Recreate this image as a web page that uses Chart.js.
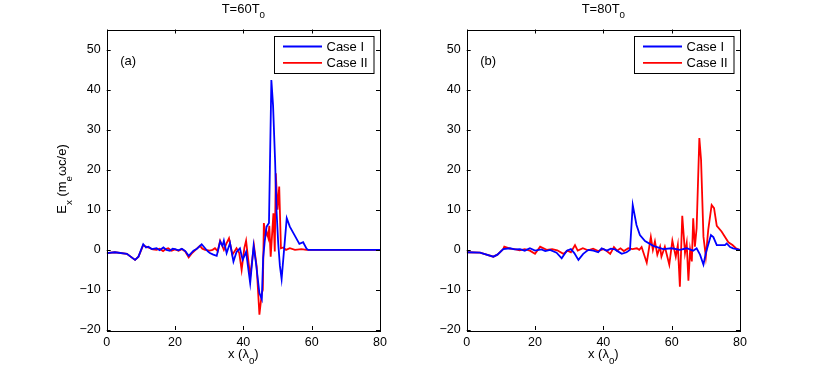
<!DOCTYPE html>
<html>
<head>
<meta charset="utf-8">
<script src="https://cdn.jsdelivr.net/npm/chart.js@4"></script>
<style>
  html, body { margin: 0; padding: 0; background: #fff; }
  .panel { position: absolute; top: 0; height: 371px; }
  #wrapA { left: 0; width: 408px; }
  #wrapB { left: 408px; width: 409px; }
</style>
</head>
<body>
<div class="panel" id="wrapA"><canvas id="chartA"></canvas></div>
<div class="panel" id="wrapB"><canvas id="chartB"></canvas></div>
<script>
// T = 60 T0, Case I
const xA1 = [0, 2.4, 5.9, 8.3, 9.3, 10.7, 11.5, 12.2, 13.2, 14.6, 15.5, 16.6, 17.5, 18.5, 19.3, 20, 21, 22, 23, 24, 25.4, 26.3, 27.8, 28.8, 29.6, 30.2, 31.2, 32.2, 33.2, 33.9, 34.3, 35.1, 36.1, 37.1, 38, 39, 39.8, 40.8, 42, 43, 43.7, 44.7, 45.4, 45.8, 46.3, 46.8, 47.5,
    48.2, 48.7, 49.3, 49.7, 50.2, 50.7, 51.2, 52.7, 53.6, 55.1, 56.4, 57.5, 58.5, 59, 80];
const yA1 = [-0.8, -0.6, -1, -2.5, -1.7, 1.4, 0.6, 0.8, 0.2, 0.4, -0.1, 0.6, 0, -0.2, 0.3, 0.2, -0.1, 0.3, -0.3, -1.5, -0.2, 0.2, 1.4, 0.4, -0.4, -0.8, -1.2, -1.5, 2.1, 1, 2.3, -0.8, 1.7, -2.9, -0.5, 0.4, -2.5, -0.5, -8.3, 1, -3.3, -10.8, -12.3, -2, 2.5, 5.8, 6.7,
    42.4, 36, 22, 10, 1.7, -4, -7.3, 7.9, 5.8, 3.5, 1.5, 1.9, 0.3, 0, 0];
// T = 60 T0, Case II
const xA2 = [0, 2.4, 5.9, 8.3, 9.3, 10.7, 11.5, 12.5, 13.5, 14.6, 15.5, 16.5, 17.3, 18, 19, 20, 21, 22, 23, 24, 25, 26, 27.3, 28, 28.8, 30.2, 31, 31.7, 32.5, 33.2, 34.3, 35, 35.8, 36.8, 38, 38.8, 39.5, 40.3, 40.8, 42, 43.1, 43.9, 44.7, 45.4, 45.7,
    46, 46.5, 46.8, 47.3, 47.6, 48, 48.8, 49.2, 49.5, 50, 50.5, 51, 51.7, 52.5, 53.6, 55.1, 57, 58.5, 80];
const yA2 = [-0.8, -0.6, -1, -2.5, -1.7, 1.2, 0.8, 0.5, 0.1, 0, 0.3, -0.3, 0.2, 0.4, -0.2, 0.1, -0.2, 0.2, -0.4, -1.9, -0.8, 0, 1, 0.3, 0, -0.2, 0, 0.4, -0.3, 2.3, 0, 1.5, 2.9, -1.2, 0.4, -0.8, -5, 0.5, 2.3, -6.7, 1.1, -4.2, -16.2, -10.8, -10,
    6.7, 3.5, 4.6, 3, 6, -1.7, 9.1, -0.4, 19.1, 10, 15.8, 0.4, 0.6, 0, 0.4, 0, 0.2, 0, 0];
// T = 80 T0, Case I
const xB1 = [0, 3.9, 7.8, 9, 10.7, 12.7, 14, 15.6, 17, 18.5, 20, 21.9, 23, 24.4, 26.3, 27.8, 29.3, 30.5, 31.5, 32.7, 34.1, 35.6, 37.1, 38.5, 39.5, 41, 42.2, 43.4, 44.5, 45.4,
    46.8, 47.8, 48.6, 49.7, 50.7, 52.2, 54.6, 57.5, 60, 62.4, 64.4, 66.3, 67.3, 68.3, 69.3, 70, 71.5, 72.2, 73.2, 75.6, 76.1, 77.1, 78, 80];
const yB1 = [-0.6, -0.7, -1.7, -1.2, 0.2, 0.4, 0.1, 0.2, -0.2, 0.4, -0.2, 0.1, -0.3, 0, -0.7, -2.1, -0.2, 0.2, -0.8, -2.5, -1, 0, -0.2, -0.6, 0.4, -0.2, 0.3, 0.1, -0.5, -1,
    -0.6, 0, 11.2, 6.2, 3.7, 2.2, 1, 0.2, 0.4, 0, 0.4, -0.2, 0.4, -1.2, -3.7, -0.8, 3.7, 3.2, 1.2, 1.2, 1.6, 0.7, 0.4, 0];
// T = 80 T0, Case II
const xB2 = [0, 3.9, 7.8, 9, 10.7, 11, 12.7, 14, 15.5, 17, 18.5, 20, 21.5, 23.4, 25, 26.5, 28.3, 29.5, 30.5, 31.7, 32.5, 34, 35.5, 37, 38.5, 40, 41, 42, 43.1, 44, 45, 46, 47.3, 48.5, 49.8, 50.5, 51.2, 52.7, 53.9, 54.5, 55.1, 55.8, 56.6, 57, 58, 59.3, 60.2, 61.2, 61.8, 62.4, 63.1, 63.9, 64.4, 64.9, 65.4, 65.9, 66.3, 66.8, 67.3, 68.1, 68.6, 69.3, 70, 70.7, 71.7, 72.4, 73.2, 74.6, 76.6, 77.8, 78.8, 80];
const yB2 = [-0.6, -0.7, -1.7, -1.2, 0.2, 0.8, 0.3, 0.2, -0.1, 0.2, -0.2, -1, 0.8, 0, 0.2, -0.1, -1, -0.2, -0.6, 1.2, -0.2, 0.4, -0.1, 0.3, -0.3, 0.2, -0.3, -1, 0.7, -0.2, 0.4, -0.3, 0.4, 0.2, 0.4, 0, 0.7, -3.2, 3.2, 0, 2.1, -1.2, 0.8, -1.7, 0.8, -3.7, 2.3, -1.7, 1.2, -9.2, 8.5, -0.8, 1.7, -7.7, 0, -2.9, 7.9, 0.8, 5.4, 27.9, 22.5, 3.3, -1.7, 5, 11.2, 10.4, 6, 4.6, 1.9, 1.2, 0.4, 0];

const seriesNames = ['Case I', 'Case II'];
const seriesColors = ['#0000ff', '#ff0000'];
const xTicks = [0, 20, 40, 60, 80];
const yTicks = [-20, -10, 0, 10, 20, 30, 40, 50];

const FONT = '"Liberation Sans", Arial, Helvetica, sans-serif';

function zip(xs, ys) {
    return xs.map((x, i) => ({ x: x, y: ys[i] }));
}

// draws text made of [string, isSubscript] pieces
function richText(ctx, parts, x, y, size, align) {
    ctx.save();
    let total = 0;
    parts.forEach(p => {
        ctx.font = (p[1] ? size * 0.75 : size) + 'px ' + FONT;
        total += ctx.measureText(p[0]).width;
    });
    let cx = align === 'center' ? x - total / 2 : x;
    ctx.fillStyle = '#000';
    ctx.textBaseline = 'alphabetic';
    ctx.textAlign = 'left';
    parts.forEach(p => {
        ctx.font = (p[1] ? size * 0.75 : size) + 'px ' + FONT;
        ctx.fillText(p[0], cx, p[1] ? y + size * 0.45 : y);
        cx += ctx.measureText(p[0]).width;
    });
    ctx.restore();
}

const matlabFrame = {
    id: 'matlabFrame',
    afterDatasetsDraw(chart, args, opts) {
        const ctx = chart.ctx;
        const a = chart.chartArea;
        const xs = chart.scales.x, ys = chart.scales.y;
        const tl = 4;
        ctx.save();
        ctx.strokeStyle = '#000';
        ctx.lineWidth = 1;
        ctx.beginPath();
        xTicks.forEach(v => {
            const px = Math.round(xs.getPixelForValue(v)) + 0.5;
            ctx.moveTo(px, a.bottom); ctx.lineTo(px, a.bottom - tl);
            ctx.moveTo(px, a.top); ctx.lineTo(px, a.top + tl);
        });
        yTicks.forEach(v => {
            const py = Math.round(ys.getPixelForValue(v)) + 0.5;
            ctx.moveTo(a.left, py); ctx.lineTo(a.left + tl, py);
            ctx.moveTo(a.right, py); ctx.lineTo(a.right - tl, py);
        });
        ctx.stroke();
        ctx.strokeRect(Math.round(a.left) + 0.5, Math.round(a.top) + 0.5,
            Math.round(a.right - a.left), Math.round(a.bottom - a.top));
        ctx.restore();
    },
    afterDraw(chart, args, opts) {
        const ctx = chart.ctx;
        const a = chart.chartArea;
        const cx = (a.left + a.right) / 2;
        // title
        richText(ctx, [['T=' + opts.time + 'T', false], ['0', true]], cx, 12.5, 13, 'center');
        // x axis label
        richText(ctx, [['x (\u03bb', false], ['0', true], [')', false]], cx, 358, 13, 'center');
        // y axis label
        if (opts.yLabel) {
            ctx.save();
            ctx.translate(66, 179);
            ctx.rotate(-Math.PI / 2);
            richText(ctx, [['E', false], ['x', true], [' (m', false], ['e', true], ['\u03c9c/e)', false]], 0, 0, 13, 'center');
            ctx.restore();
        }
        // panel tag
        ctx.save();
        ctx.font = '13px ' + FONT;
        ctx.fillStyle = '#000';
        ctx.textBaseline = 'middle';
        ctx.fillText(opts.tag, a.left + 13.5, a.top + 31.5);
        ctx.restore();
        // legend box
        const bw = 99.5, bh = 37;
        const bx = Math.round(a.right - 6.5 - bw) + 0.5;
        const by = Math.round(a.top + 6.5) + 0.5;
        ctx.save();
        ctx.fillStyle = '#fff';
        ctx.fillRect(bx, by, bw, bh);
        ctx.strokeStyle = '#000';
        ctx.lineWidth = 1;
        ctx.strokeRect(bx, by, bw, bh);
        ctx.font = '13px ' + FONT;
        ctx.textBaseline = 'middle';
        chart.data.datasets.forEach((ds, i) => {
            const ly = by + 10 + i * 16.3;
            ctx.strokeStyle = ds.borderColor;
            ctx.lineWidth = 1.8;
            ctx.beginPath();
            ctx.moveTo(bx + 8.5, ly);
            ctx.lineTo(bx + 47.5, ly);
            ctx.stroke();
            ctx.fillStyle = '#000';
            ctx.fillText(ds.label, bx + 52, ly + 0.5);
        });
        ctx.restore();
    }
};

function makeChart(id, d1, d2, yWidth, padRight, time, tag, yLabel) {
    return new Chart(document.getElementById(id), {
        type: 'line',
        data: {
            datasets: [d1, d2].map((d, i) => ({
                label: seriesNames[i],
                data: d,
                borderColor: seriesColors[i],
                backgroundColor: seriesColors[i],
                borderWidth: 1.8,
                pointRadius: 0,
                tension: 0,
                fill: false
            }))
        },
        options: {
            responsive: true,
            maintainAspectRatio: false,
            animation: false,
            events: [],
            layout: { padding: { top: 29.5, right: padRight, left: 0, bottom: 0 } },
            plugins: {
                legend: { display: false },
                tooltip: { enabled: false },
                title: { display: false },
                matlabFrame: { time: time, tag: tag, yLabel: yLabel }
            },
            scales: {
                x: {
                    type: 'linear',
                    min: 0, max: 80,
                    grid: { display: false, drawTicks: false },
                    border: { display: false },
                    afterBuildTicks: s => { s.ticks = xTicks.map(v => ({ value: v })); },
                    ticks: { color: '#000', padding: 5, maxRotation: 0, font: { family: FONT, size: 12.5 } },
                    afterFit: s => { s.height = 41; }
                },
                y: {
                    min: -20, max: 55,
                    grid: { display: false, drawTicks: false },
                    border: { display: false },
                    afterBuildTicks: s => { s.ticks = yTicks.map(v => ({ value: v })); },
                    ticks: {
                        color: '#000', padding: 6, font: { family: FONT, size: 12.5 },
                        callback: v => String(v).replace('-', '\u2212')
                    },
                    afterFit: s => { s.width = yWidth; }
                }
            }
        },
        plugins: [matlabFrame]
    });
}

makeChart('chartA', zip(xA1, yA1), zip(xA2, yA2), 106.7, 28, 60, '(a)', true);
makeChart('chartB', zip(xB1, yB1), zip(xB2, yB2), 58.7, 77, 80, '(b)', false);
</script>
</body>
</html>
